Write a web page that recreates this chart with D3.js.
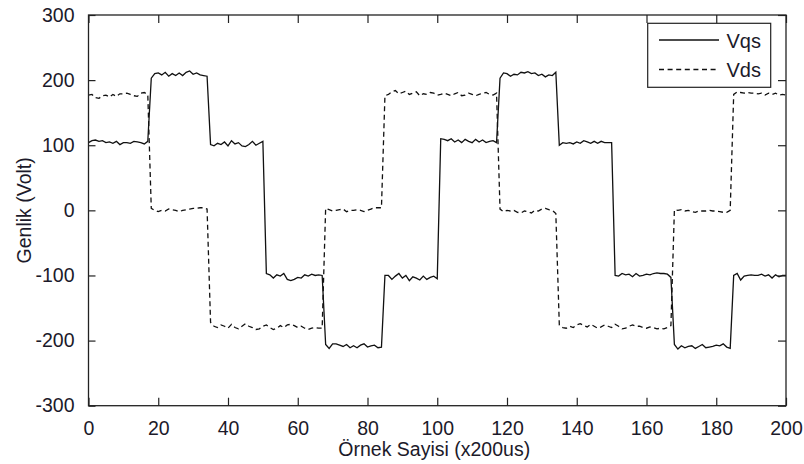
<!DOCTYPE html>
<html>
<head>
<meta charset="utf-8">
<script src="https://cdn.jsdelivr.net/npm/d3@7"></script>
<style>
  body { margin: 0; background: #fff; }
  svg { display: block; }
  text { font-family: "Liberation Sans", Arial, sans-serif; fill: #1c1a2a; }
</style>
</head>
<body>
<svg width="804" height="464"></svg>
<script>
// Örnek numaraları 0..200, her örnek için bir değer
const vqs = [
  104, 107, 108, 106, 107, 104, 105, 103, 106, 101,
  104, 104, 103, 106, 105, 104, 102, 106, 203, 210,
  211, 208, 212, 206, 210, 207, 211, 207, 212, 214,
  209, 211, 208, 207, 206, 101, 99, 103, 101, 105,
  99, 107, 102, 104, 99, 98, 101, 106, 100, 103,
  106, -97, -99, -104, -99, -101, -97, -106, -108, -106,
  -103, -104, -99, -101, -98, -100, -99, -100, -206, -212,
  -205, -205, -207, -209, -206, -211, -208, -211, -207, -205,
  -210, -208, -207, -211, -210, -100, -100, -106, -101, -97,
  -104, -100, -108, -102, -104, -107, -101, -106, -103, -101,
  -105, 110, 109, 107, 110, 105, 108, 104, 109, 106,
  104, 109, 105, 108, 104, 106, 107, 104, 203, 211,
  210, 206, 209, 208, 212, 211, 213, 210, 211, 207,
  209, 205, 208, 207, 212, 100, 104, 103, 104, 102,
  105, 103, 107, 105, 103, 106, 103, 106, 104, 104,
  104, -100, -101, -97, -99, -98, -102, -97, -101, -100,
  -98, -99, -97, -96, -97, -97, -98, -103, -206, -213,
  -208, -211, -209, -208, -212, -209, -206, -211, -210, -209,
  -207, -208, -205, -210, -212, -100, -97, -107, -101, -100,
  -99, -100, -100, -98, -101, -99, -104, -99, -102, -100,
  -100
];

const vds = [
  177, 178, 173, 172, 176, 177, 174, 178, 175, 179,
  179, 180, 178, 176, 175, 180, 181, 178, 3, 0,
  -2, 0, -1, 2, 1, 0, -2, 0, 1, 2,
  3, 3, 4, 4, 2, -172, -178, -180, -176, -178,
  -181, -175, -180, -182, -178, -174, -178, -180, -183, -182,
  -178, -176, -180, -183, -181, -177, -180, -176, -175, -177,
  -180, -178, -181, -183, -181, -180, -181, -181, 3, 1,
  -1, 0, 1, 2, -2, 0, 0, 1, 0, -2,
  0, 2, 4, 4, 4, 176, 178, 182, 184, 179,
  181, 183, 178, 180, 182, 176, 179, 178, 181, 180,
  177, 178, 180, 178, 176, 179, 181, 176, 177, 180,
  178, 176, 178, 180, 181, 178, 177, 180, 2, -2,
  0, -1, 0, -3, -4, -1, -2, -4, 0, -1,
  2, 3, 1, 0, -5, -176, -180, -181, -178, -180,
  -176, -174, -177, -179, -175, -178, -181, -179, -176, -178,
  -180, -175, -178, -182, -181, -178, -176, -178, -178, -180,
  -181, -179, -180, -182, -181, -182, -180, -177, 1, 0,
  1, -1, 0, -2, -3, -1, -1, -1, 0, -1,
  -1, -2, -3, -3, 0, 178, 182, 181, 180, 181,
  180, 180, 179, 180, 177, 180, 178, 180, 177, 178,
  177
];

const xTicks = [0, 20, 40, 60, 80, 100, 120, 140, 160, 180, 200];
const yTicks = [-300, -200, -100, 0, 100, 200, 300];
const seriesNames = ["Vqs", "Vds"];
const xLabel = "Örnek Sayisi (x200us)";
const yLabel = "Genlik (Volt)";

const svg = d3.select("svg");
const plotLeft = 88.5, plotRight = 786, plotTop = 15, plotBottom = 405.7;
const fontSize = 19.5;

const x = d3.scaleLinear().domain([0, 200]).range([plotLeft, plotRight]);
const y = d3.scaleLinear().domain([-300, 300]).range([plotBottom, plotTop]);

// Eksen çerçevesi
svg.append("rect")
  .attr("x", plotLeft).attr("y", plotTop)
  .attr("width", plotRight - plotLeft).attr("height", plotBottom - plotTop)
  .attr("fill", "#fff");

// Veri çizgileri
const line = d3.line()
  .x((d, i) => x(i))
  .y(d => y(d));

svg.append("path")
  .attr("d", line(vds))
  .attr("fill", "none")
  .attr("stroke", "#111")
  .attr("stroke-width", 1.3)
  .attr("stroke-dasharray", "5,3.5");

svg.append("path")
  .attr("d", line(vqs))
  .attr("fill", "none")
  .attr("stroke", "#111")
  .attr("stroke-width", 1.3);

// Eksenler (tikler içeri doğru); eksi işareti düz tire
const plain = d => String(d);
const styleAxis = g => {
  g.select(".domain").remove();
  g.selectAll(".tick line").attr("stroke", "#222").attr("stroke-width", 1.2);
  g.selectAll(".tick text")
    .attr("font-size", fontSize)
    .attr("font-family", "Liberation Sans, Arial, sans-serif")
    .attr("fill", "#1c1a2a");
};

svg.append("g")
  .attr("transform", `translate(0,${plotBottom})`)
  .call(d3.axisBottom(x).tickValues(xTicks).tickSize(-8).tickPadding(15).tickFormat(plain))
  .call(styleAxis);

svg.append("g")
  .attr("transform", `translate(0,${plotTop})`)
  .call(d3.axisTop(x).tickValues(xTicks).tickSize(-8).tickFormat(""))
  .call(styleAxis);

svg.append("g")
  .attr("transform", `translate(${plotLeft},0)`)
  .call(d3.axisLeft(y).tickValues(yTicks).tickSize(-7).tickPadding(14).tickFormat(plain))
  .call(styleAxis);

svg.append("g")
  .attr("transform", `translate(${plotRight},0)`)
  .call(d3.axisRight(y).tickValues(yTicks).tickSize(-8).tickFormat(""))
  .call(styleAxis);

svg.append("rect")
  .attr("x", plotLeft).attr("y", plotTop)
  .attr("width", plotRight - plotLeft).attr("height", plotBottom - plotTop)
  .attr("fill", "none")
  .attr("stroke", "#222")
  .attr("stroke-width", 1.3);

// Eksen başlıkları
svg.append("text")
  .attr("x", (plotLeft + plotRight) / 2 - 3)
  .attr("y", 455.5)
  .attr("text-anchor", "middle")
  .attr("font-size", fontSize)
  .text(xLabel);

svg.append("text")
  .attr("transform", `translate(30.5,${y(0)}) rotate(-90)`)
  .attr("text-anchor", "middle")
  .attr("font-size", fontSize)
  .text(yLabel);

// Lejant
const legend = svg.append("g");
legend.append("rect")
  .attr("x", 647.7).attr("y", 23.3)
  .attr("width", 123).attr("height", 64)
  .attr("fill", "#fff")
  .attr("stroke", "#222")
  .attr("stroke-width", 1.2);

seriesNames.forEach((name, i) => {
  const ly = 40 + i * 29.5;
  legend.append("line")
    .attr("x1", 659).attr("x2", 719)
    .attr("y1", ly).attr("y2", ly)
    .attr("stroke", "#111")
    .attr("stroke-width", 1.3)
    .attr("stroke-dasharray", i === 1 ? "5,3.6" : null);
  legend.append("text")
    .attr("x", 726.5)
    .attr("y", ly + 7.5)
    .attr("font-size", fontSize + 0.5)
    .text(name);
});
</script>
</body>
</html>
